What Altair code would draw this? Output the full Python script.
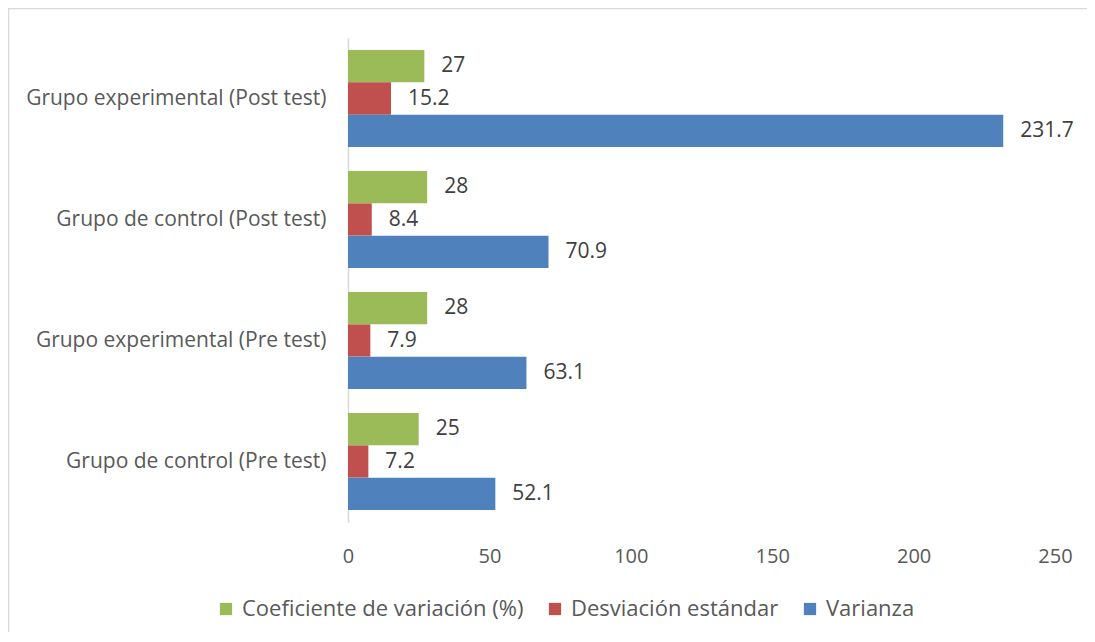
import altair as alt
import pandas as pd

categories = [
    "Grupo experimental (Post test)",
    "Grupo de control (Post test)",
    "Grupo experimental (Pre test)",
    "Grupo de control (Pre test)",
]
series = ["Coeficiente de variación (%)", "Desviación estándar", "Varianza"]
coef_var = [27, 28, 28, 25]
desv_est = [15.2, 8.4, 7.9, 7.2]
varianza = [231.7, 70.9, 63.1, 52.1]
colors = ["#9BBB59", "#C0504D", "#4F81BD"]
x_ticks = [0, 50, 100, 150, 200, 250]

rows = []
for i, c in enumerate(categories):
    for s, vals in zip(series, [coef_var, desv_est, varianza]):
        rows.append({"grupo": c, "serie": s, "valor": vals[i], "label": f"{vals[i]:g}"})
df = pd.DataFrame(rows)

FONT = "Open Sans"
TXT = "#595959"

base = alt.Chart(df)

y = alt.Y("grupo:N", sort=categories,
          scale=alt.Scale(paddingInner=0.2, paddingOuter=0.1),
          axis=alt.Axis(title=None, ticks=False, domain=True, domainColor="#d9d9d9",
                        domainWidth=1.5, labelPadding=22, labelFontSize=21,
                        labelColor=TXT, labelFont=FONT, labelLimit=400))
yoff = alt.YOffset("serie:N", sort=series)
x = alt.X("valor:Q", scale=alt.Scale(domain=[0, 250], nice=False),
          axis=alt.Axis(title=None, values=x_ticks, grid=False, ticks=False, domain=False,
                        labelFlush=False, labelPadding=24, labelFontSize=20,
                        labelColor=TXT, labelFont=FONT))

bars = base.mark_bar().encode(
    y=y, yOffset=yoff, x=x,
    color=alt.Color("serie:N", sort=series,
                    scale=alt.Scale(domain=series, range=colors),
                    legend=alt.Legend(title=None, orient="none", direction="horizontal",
                                      legendX=-133, legendY=560, symbolType="square",
                                      symbolSize=150, symbolStrokeWidth=0,
                                      labelFontSize=22, labelColor=TXT, labelFont=FONT,
                                      labelOffset=5, columnPadding=20, labelLimit=400)),
)

labels = base.mark_text(align="left", baseline="middle", dx=17, fontSize=21,
                        color="#404040", font=FONT).encode(
    y=alt.Y("grupo:N", sort=categories), yOffset=yoff,
    x="valor:Q", text="label:N")

border = alt.Chart(pd.DataFrame({"a": [0]})).mark_rect(
    fill=None, stroke="#d9d9d9", strokeWidth=1.5).encode(
    x=alt.value(-339.5), x2=alt.value(800), y=alt.value(-29.5), y2=alt.value(700))

chart = alt.layer(border, bars, labels).properties(
    width=707, height=484,
    autosize=alt.AutoSizeParams(type="none"),
    padding={"left": 340, "top": 30, "right": 32, "bottom": 110},
).configure_view(stroke=None)

chart.save("out.html", embed_options={"renderer": "svg", "actions": False})
